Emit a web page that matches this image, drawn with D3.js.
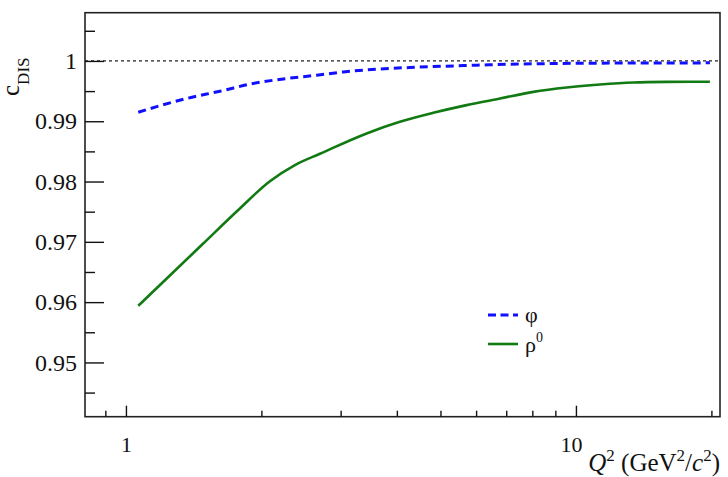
<!DOCTYPE html>
<html lang="en">
<head>
<meta charset="utf-8">
<script src="https://cdn.jsdelivr.net/npm/d3@7"></script>
<style>
  body { margin: 0; background: #fff; }
  svg text { font-family: "Liberation Serif", "Times New Roman", serif; fill: #111; }
</style>
</head>
<body>
<script>
// ---- data ----
var q2Phi  = [1.065, 1.364, 1.618, 1.918, 2.276, 2.654, 3.041, 3.607, 4.277, 5.072, 6.016, 7.015, 9.21, 12.53, 19.85];
var cPhi   = [0.99150, 0.99377, 0.99498, 0.99626, 0.99709, 0.99763, 0.99818, 0.99863, 0.99891, 0.99912, 0.99929, 0.99945, 0.99958, 0.99965, 0.99968];
var q2Rho  = [1.065, 1.252, 1.485, 1.762, 2.089, 2.374, 2.698, 3.427, 4.063, 4.819, 5.716, 6.779, 8.04, 9.535, 11.31, 13.41, 15.91, 19.85];
var cRho   = [0.95939, 0.96442, 0.96972, 0.97503, 0.98005, 0.98273, 0.98460, 0.98798, 0.98990, 0.99139, 0.99267, 0.99377, 0.99487, 0.99560, 0.99609, 0.99642, 0.99652, 0.99655];
var yTicks = [0.95, 0.96, 0.97, 0.98, 0.99, 1.00];
var yMinor = [0.945, 0.955, 0.965, 0.975, 0.985, 0.995, 1.005];
var xTicks = [1, 10];
var xMinor = [0.9, 2, 3, 4, 5, 6, 7, 8, 9, 20];
var legendNames = ["φ", "ρ"];

var W = 728, H = 477;
var padL = 85, padT = 12.7, padR = 720, padB = 416.7;
var serif = "'Liberation Serif', 'Times New Roman', serif";

var svg = d3.select("body").append("svg")
    .attr("width", W)
    .attr("height", H);

var x = d3.scaleLog().domain([0.811, 20.9]).range([padL, padR]);
var y = d3.scaleLinear().domain([0.941, 1.008]).range([padB, padT]);

// dotted reference line at 1
svg.append("line")
    .attr("x1", padL).attr("x2", padR)
    .attr("y1", y(1)).attr("y2", y(1))
    .attr("stroke", "#222").attr("stroke-width", 1.2)
    .attr("stroke-dasharray", "3,3");

// curves
var line = d3.line()
    .x(function (d) { return x(d[0]); })
    .y(function (d) { return y(d[1]); })
    .curve(d3.curveMonotoneX);

svg.append("path")
    .datum(d3.zip(q2Rho, cRho))
    .attr("d", line)
    .attr("fill", "none")
    .attr("stroke", "#127a12")
    .attr("stroke-width", 2.6);

svg.append("path")
    .datum(d3.zip(q2Phi, cPhi))
    .attr("d", line)
    .attr("fill", "none")
    .attr("stroke", "#1010ff")
    .attr("stroke-width", 3)
    .attr("stroke-dasharray", "8,5");

// frame
svg.append("rect")
    .attr("x", padL).attr("y", padT)
    .attr("width", padR - padL).attr("height", padB - padT)
    .attr("fill", "none").attr("stroke", "#222").attr("stroke-width", 1.6);

// y axis
var yAxis = svg.append("g")
    .attr("transform", "translate(" + padL + ",0)")
    .call(d3.axisLeft(y).tickValues(yTicks).tickSizeInner(-19).tickSizeOuter(0).tickPadding(8)
        .tickFormat(function (d) { return d === 1 ? "1" : d3.format(".2f")(d); }));
svg.append("g")
    .attr("transform", "translate(" + padL + ",0)")
    .call(d3.axisLeft(y).tickValues(yMinor).tickSizeInner(-10).tickSizeOuter(0).tickFormat(""));

// x axis
var xAxis = svg.append("g")
    .attr("transform", "translate(0," + padB + ")")
    .call(d3.axisBottom(x).tickValues(xTicks).tickSizeInner(-11).tickSizeOuter(0).tickPadding(20)
        .tickFormat(d3.format("d")));
svg.append("g")
    .attr("transform", "translate(0," + padB + ")")
    .call(d3.axisBottom(x).tickValues(xMinor).tickSizeInner(-6).tickSizeOuter(0).tickFormat(""));

svg.selectAll(".domain").remove();
svg.selectAll(".tick line").attr("stroke", "#111").attr("stroke-width", 1.4);
yAxis.attr("font-family", serif).attr("font-size", 24);
xAxis.attr("font-family", serif).attr("font-size", 22);
svg.selectAll(".tick text").attr("fill", "#111");
xAxis.selectAll(".tick text").filter(function (d) { return d === 10; }).attr("dx", -5);

// axis titles
var yt = svg.append("text")
    .attr("transform", "translate(19,96) rotate(-90)")
    .attr("font-family", serif)
    .style("font-size", "25px");
yt.append("tspan").text("c");
yt.append("tspan").attr("dy", 10).style("font-size", "17px").text("DIS");

var xt = svg.append("text")
    .attr("x", padR).attr("y", 471)
    .attr("text-anchor", "end")
    .attr("font-family", serif)
    .style("font-size", "25px");
xt.append("tspan").style("font-style", "italic").text("Q");
xt.append("tspan").attr("dy", -10).style("font-size", "17px").text("2");
xt.append("tspan").attr("dy", 10).text(" (GeV");
xt.append("tspan").attr("dy", -10).style("font-size", "17px").text("2");
xt.append("tspan").attr("dy", 10).text("/");
xt.append("tspan").style("font-style", "italic").text("c");
xt.append("tspan").attr("dy", -10).style("font-size", "17px").text("2");
xt.append("tspan").attr("dy", 10).text(")");

// legend
var lg = svg.append("g").attr("font-family", serif);
lg.append("line")
    .attr("x1", 488).attr("x2", 518).attr("y1", 315).attr("y2", 315)
    .attr("stroke", "#1010ff").attr("stroke-width", 3).attr("stroke-dasharray", "8,4.5");
lg.append("line")
    .attr("x1", 488).attr("x2", 518).attr("y1", 344).attr("y2", 344)
    .attr("stroke", "#127a12").attr("stroke-width", 2.6);
lg.append("text")
    .attr("x", 525).attr("y", 322)
    .style("font-size", "22px")
    .text(legendNames[0]);
var rho = lg.append("text")
    .attr("x", 525).attr("y", 352)
    .style("font-size", "22px");
rho.append("tspan").text(legendNames[1]);
rho.append("tspan").attr("dy", -10).style("font-size", "14px").text("0");
</script>
</body>
</html>
